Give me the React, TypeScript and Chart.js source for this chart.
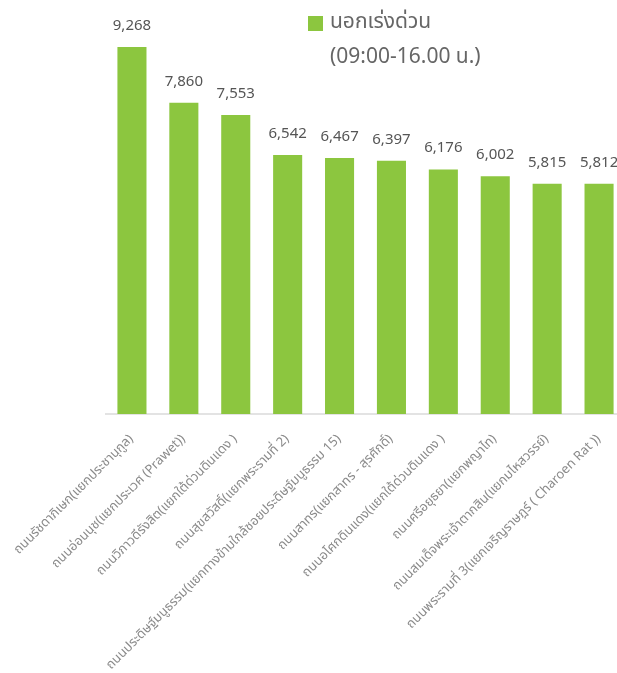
import React, { useEffect, useRef } from "react";
import { Chart, registerables } from "chart.js";

Chart.register(...registerables);

const categories: string[] = [
  "ถนนรัชดาภิเษก(แยกประชานุกูล)",
  "ถนนอ่อนนุช(แยกประเวศ (Prawet))",
  "ถนนวิภาวดีรังสิต(แยกใต้ด่วนดินแดง )",
  "ถนนสุขสวัสดิ์(แยกพระรามที่ 2)",
  "ถนนประดิษฐ์มนูธรรม(แยกทางข้ามใกล้ซอยประดิษฐ์มนูธรรม 15)",
  "ถนนสาทร(แยกสาทร - สุรศักดิ์)",
  "ถนนอโศกดินแดง(แยกใต้ด่วนดินแดง )",
  "ถนนศรีอยุธยา(แยกพญาไท)",
  "ถนนสมเด็จพระเจ้าตากสิน(แยกมไหสวรรย์)",
  "ถนนพระรามที่ 3(แยกเจริญราษฎร์ ( Charoen Rat ))",
];
const values: number[] = [9268, 7860, 7553, 6542, 6467, 6397, 6176, 6002, 5815, 5812];
const seriesName = "นอกเร่งด่วน";
const seriesSub = "(09:00-16.00 น.)";

const FONT = "'Noto Sans Thai', 'Noto Sans', 'DejaVu Sans', sans-serif";
const GREEN = "#8cc63f";

const valueLabels = {
  id: "valueLabels",
  afterDatasetsDraw(chart: any) {
    const ctx = chart.ctx;
    const meta = chart.getDatasetMeta(0);
    ctx.save();
    ctx.font = `15px ${FONT}`;
    ctx.fillStyle = "#555555";
    ctx.textAlign = "center";
    ctx.textBaseline = "middle";
    meta.data.forEach((bar: any, i: number) => {
      const v = chart.data.datasets[0].data[i] as number;
      ctx.fillText(v.toLocaleString("en-US"), bar.x, bar.y - 20);
    });
    ctx.restore();
  },
};

const customLegend = {
  id: "customLegend",
  afterDraw(chart: any) {
    const ctx = chart.ctx;
    ctx.save();
    ctx.fillStyle = GREEN;
    ctx.fillRect(308, 16, 15, 15);
    ctx.font = `21px ${FONT}`;
    ctx.fillStyle = "#666666";
    ctx.textAlign = "left";
    ctx.textBaseline = "middle";
    ctx.fillText(seriesName, 330, 24);
    ctx.fillText(seriesSub, 330, 59);
    ctx.restore();
  },
};

export default function App() {
  const ref = useRef<HTMLCanvasElement>(null);
  useEffect(() => {
    if (!ref.current) return;
    const chart = new Chart(ref.current, {
      type: "bar",
      data: {
        labels: categories,
        datasets: [
          {
            label: seriesName,
            data: values,
            backgroundColor: GREEN,
            barPercentage: 0.56,
            categoryPercentage: 1,
          },
        ],
      },
      options: {
        animation: false,
        responsive: false,
        layout: { padding: { top: 18, left: 106, right: 0, bottom: 0 } },
        plugins: { legend: { display: false }, tooltip: { enabled: false } },
        scales: {
          x: {
            grid: { display: false },
            border: { display: true, color: "#e3e3e3", width: 2 },
            afterFit: (scale: any) => {
              scale.height = 259;
              scale.paddingLeft = 0;
              scale.paddingRight = 0;
            },
            ticks: {
              minRotation: 45,
              maxRotation: 45,
              autoSkip: false,
              color: "#8a8a8a",
              font: { size: 13, family: FONT },
              padding: 10,
            },
          },
          y: {
            display: false,
            min: 0,
            max: 10000,
          },
        },
      },
      plugins: [valueLabels, customLegend],
    });
    return () => chart.destroy();
  }, []);
  return (
    <div style={{ position: "absolute", left: 0, top: 0, width: 617, height: 673, overflow: "hidden", background: "#fff" }}>
      <canvas ref={ref} width={625} height={673} style={{ display: "block" }} />
    </div>
  );
}
